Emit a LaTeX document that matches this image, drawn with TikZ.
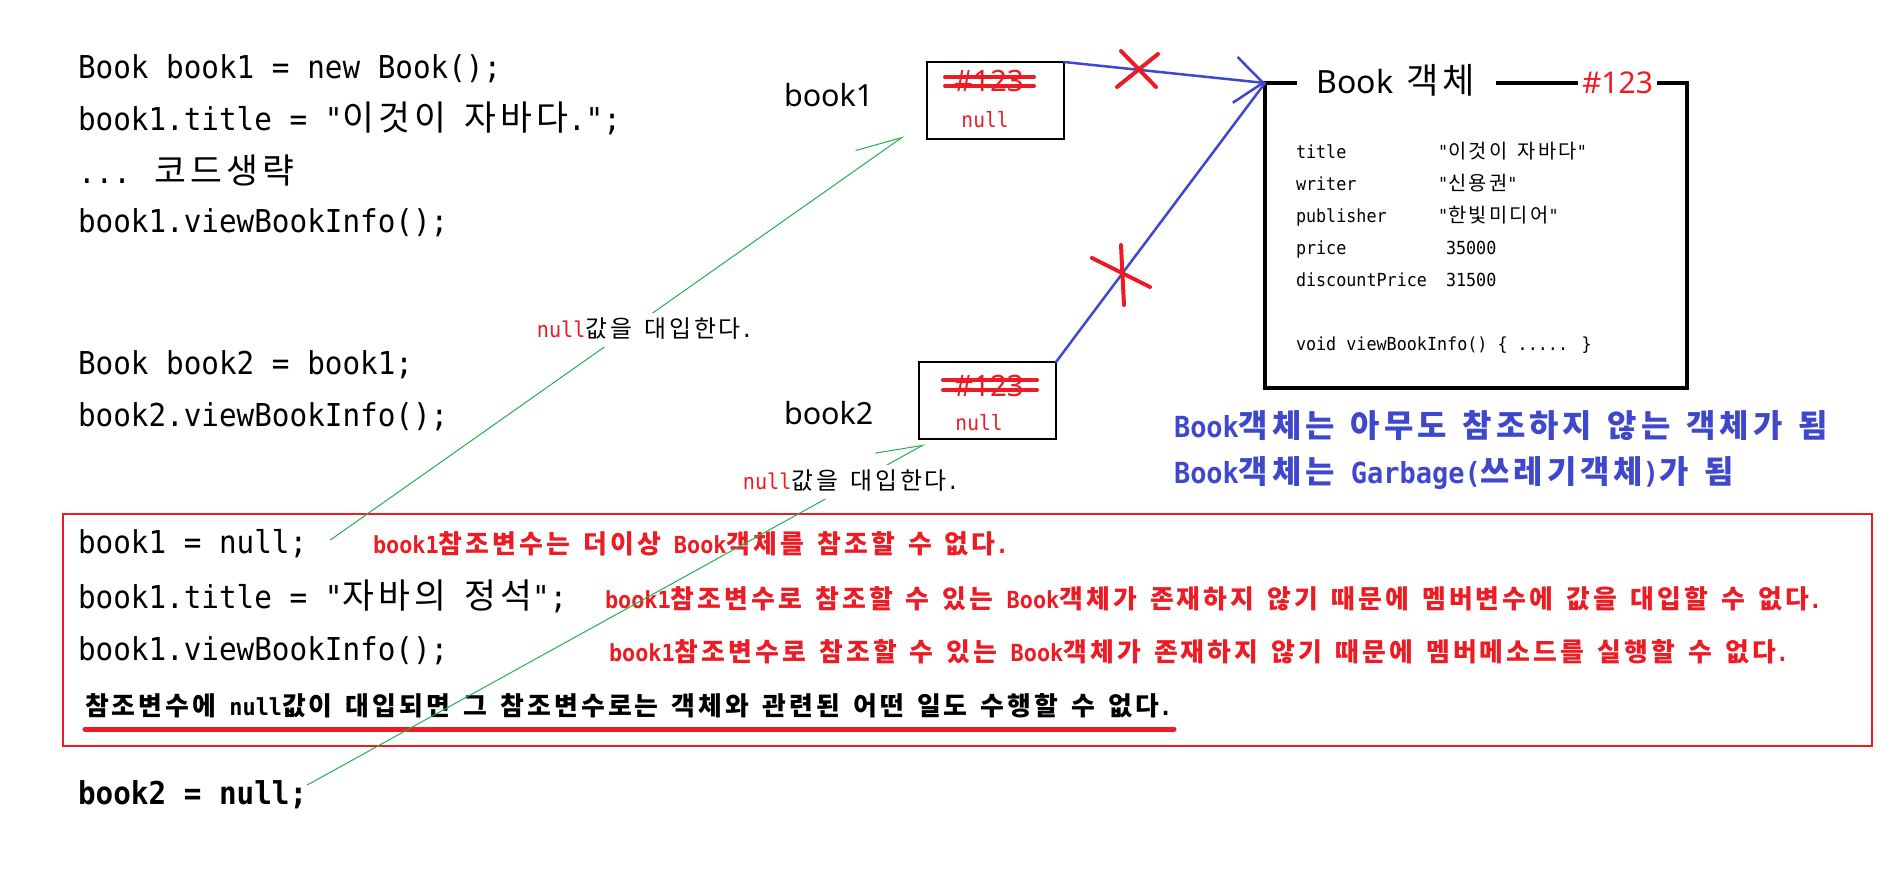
\documentclass[tikz,border=0pt]{standalone}
\usepackage{fontspec}
\usetikzlibrary{arrows.meta,calc}
\newfontfamily\codefont[FakeStretch=0.93]{DejaVu Sans Mono}
\newfontfamily\krbase[LetterSpace=12]{Noto Sans CJK KR}
\newfontfamily\lblfont{Noto Sans}
\makeatletter
\newcommand\K[1]{{\krbase\fontsize{\strip@pt\dimexpr 1.1\dimexpr\f@size pt\relax\relax}{0pt}\selectfont #1}}
\makeatother
\definecolor{pred}{RGB}{237,28,36}
\definecolor{pblue}{RGB}{63,72,204}
\definecolor{pgreen}{RGB}{34,177,76}
\begin{document}
\begin{tikzpicture}[x=1pt,y=-1pt,
  txt/.style={anchor=west,inner sep=0pt,outer sep=0pt},
  code/.style={txt,font=\codefont\fontsize{31.5}{36}\selectfont,text height=26pt,text depth=4pt},
  codeb/.style={code,font=\codefont\bfseries\fontsize{31.5}{36}\selectfont},
  redtxt/.style={txt,text=pred,font=\codefont\bfseries\fontsize{23.5}{28}\selectfont,text height=19.5pt,text depth=3pt},
  blktxt/.style={redtxt,text=black},
  bluetxt/.style={txt,text=pblue,font=\codefont\bfseries\fontsize{29}{34}\selectfont,text height=24pt,text depth=3.8pt},
  field/.style={txt,font=\codefont\fontsize{18}{22}\selectfont,text height=15pt,text depth=2.4pt},
  varlbl/.style={txt,font=\lblfont\fontsize{30.5}{36}\selectfont,text height=25.3pt,text depth=4pt},
  refbox/.style={draw,line width=1.2pt,minimum width=137pt,minimum height=77pt,inner sep=0pt,outer sep=0pt},
  addr/.style={inner sep=0pt,text=pred,font=\lblfont\fontsize{29.5}{36}\selectfont,text height=24.5pt,text depth=3.8pt},
  nulltxt/.style={inner sep=0pt,text=pred,font=\codefont\fontsize{21}{25}\selectfont,text height=17.5pt,text depth=2.7pt},
  strike/.style={pred,line width=4pt,line cap=round},
  xmark/.style={pred,line width=4pt,line cap=round},
  refarrow/.style={pblue,line width=2.5pt,line cap=round},
  greenarrow/.style={pgreen,line width=1pt,-{Straight Barb[harpoon,length=45pt,width=32pt]}},
  assignlbl/.style={fill=white,inner xsep=2pt,inner ysep=7pt,font=\codefont\fontsize{21.7}{26}\selectfont,text height=18pt,text depth=2.8pt}
]
\useasboundingbox (0,0) rectangle (1898,868);
\fill[white] (0,0) rectangle (1898,868);

% code lines
\node[code] (c1) at (78,67) {Book book1 = new Book();};
\node[code] (c2) at (78,119) {book1.title = "\K{이것이} \K{자바다}.";};
\node[code] (c3) at (78,172) {... \K{코드생략}};
\node[code] (c4) at (78,221) {book1.viewBookInfo();};
\node[code] (c5) at (78,363) {Book book2 = book1;};
\node[code] (c6) at (78,415) {book2.viewBookInfo();};
\node[code] (c7) at (78,542) {book1 = null;};
\node[code] (c8) at (78,597) {book1.title = "\K{자바의} \K{정석}";};
\node[code] (c9) at (78,649) {book1.viewBookInfo();};
\node[codeb] (c10) at (78,793) {book2 = null;};

% red frame and explanations
\node[draw=pred,line width=1.5pt,minimum width=1809pt,minimum height=232pt,inner sep=0pt,outer sep=0pt] (frame) at (967.5,630) {};
\node[redtxt] (r1) at (373,545) {book1\K{참조변수는} \K{더이상} Book\K{객체를} \K{참조할} \K{수} \K{없다}.};
\node[redtxt] (r2) at (605,600) {book1\K{참조변수로} \K{참조할} \K{수} \K{있는} Book\K{객체가} \K{존재하지} \K{않기} \K{때문에} \K{멤버변수에} \K{값을} \K{대입할} \K{수} \K{없다}.};
\node[redtxt] (r3) at (609,653) {book1\K{참조변수로} \K{참조할} \K{수} \K{있는} Book\K{객체가} \K{존재하지} \K{않기} \K{때문에} \K{멤버메소드를} \K{실행할} \K{수} \K{없다}.};
\node[blktxt] (bk) at (85,707) {\K{참조변수에} null\K{값이} \K{대입되면} \K{그} \K{참조변수로는} \K{객체와} \K{관련된} \K{어떤} \K{일도} \K{수행할} \K{수} \K{없다}.};
\draw[pred,line width=5pt,line cap=round] (85,729) -- (1174,729);

% reference variables
\node[varlbl] (v1) at (784,96) {book1};
\node[varlbl] (v2) at (784,414) {book2};
\node[refbox] (b1) at (995.5,100.5) {};
\node[refbox] (b2) at (987.5,400.5) {};
\node[addr] (h1) at (989,81) {\#123};
\node[nulltxt] (n1) at (985,120) {null};
\node[addr] (h2) at (989,386) {\#123};
\node[nulltxt] (n2) at (979,423) {null};
\draw[strike] ($(h1.center)+(-44,-4)$) -- ($(h1.center)+(45,-4)$);
\draw[strike] ($(h1.center)+(-44,5)$) -- ($(h1.center)+(45,5)$);
\draw[strike] ($(h2.center)+(-46,-6)$) -- ($(h2.center)+(48,-6)$);
\draw[strike] ($(h2.center)+(-46,4)$) -- ($(h2.center)+(48,4)$);

% object box
\node[draw,line width=4pt,minimum width=422pt,minimum height=305pt,inner sep=0pt,outer sep=0pt] (obj) at (1476,235.5) {};
\node[fill=white,inner sep=0pt,minimum width=199pt,minimum height=30pt,font=\lblfont\fontsize{32}{38}\selectfont,text height=26.5pt,text depth=4pt] (ttl) at (1396,82) {Book\hspace{13pt}\K{객체}};
\node[fill=white,inner sep=0pt,minimum width=79pt,minimum height=30pt,text=pred,font=\lblfont\fontsize{30}{36}\selectfont,text height=25pt,text depth=4pt] (oaddr) at (1617.5,83) {\#123};
\node[field] (f1) at (1296,152) {title};
\node[field] (f2) at (1296,184) {writer};
\node[field] (f3) at (1296,216) {publisher};
\node[field] (f4) at (1296,248) {price};
\node[field] (f5) at (1296,280) {discountPrice};
\node[field] (f6) at (1296,344) {void viewBookInfo() \{ ..... \}};
\node[field] (w1) at (1438,152) {"\K{이것이} \K{자바다}"};
\node[field] (w2) at (1438,184) {"\K{신용권}"};
\node[field] (w3) at (1438,216) {"\K{한빛미디어}"};
\node[field] (w4) at (1446,248) {35000};
\node[field] (w5) at (1446,280) {31500};

% blue comments
\node[bluetxt] (bt1) at (1174,427) {Book\K{객체는} \K{아무도} \K{참조하지} \K{않는} \K{객체가} \K{됨}};
\node[bluetxt] (bt2) at (1174,473) {Book\K{객체는} Garbage(\K{쓰레기객체})\K{가} \K{됨}};

% reference arrows
\draw[refarrow,-{Straight Barb[length=28pt,width=46pt]}] (b1.north east) -- (obj.north west);
\draw[refarrow] (b2.north east) -- (obj.north west);
\draw[xmark] (1121,51) -- (1156,87);
\draw[xmark] (1158,54) -- (1117,87);
\draw[xmark] (1121,245) -- (1124,305);
\draw[xmark] (1092,258) -- (1150,287);

% assignment arrows
\coordinate (s1) at ($(c7.east)+(23,-2)$);
\coordinate (t1) at ($(b1.south west)+(-23,-3)$);
\coordinate (s2) at ($(c10.east)+(0,-8)$);
\coordinate (t2) at ($(b2.south west)+(6,5)$);
\draw[greenarrow] (s1) -- (t1);
\draw[greenarrow] (s2) -- (t2);
\node[assignlbl] (l1) at (645,330) {\textcolor{pred}{null}\K{값을} \K{대입한다}.};
\node[assignlbl] (l2) at (851,482) {\textcolor{pred}{null}\K{값을} \K{대입한다}.};
\end{tikzpicture}
\end{document}
